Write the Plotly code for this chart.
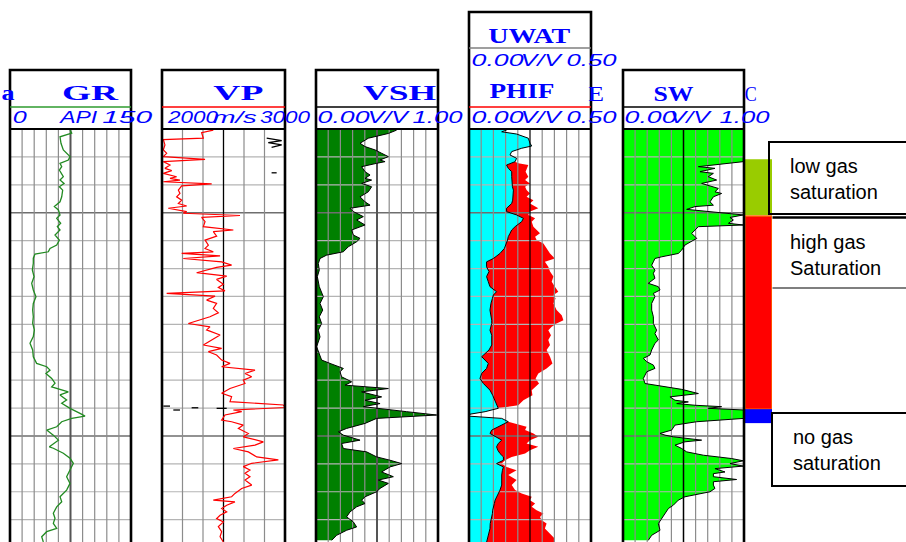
import json
import plotly.graph_objects as go

FIG_W, FIG_H = 906, 542
DEPTH_TOP, DEPTH_BASE = 2165.0, 2179.8

# ---------------- log curves (depth in m) ----------------
gr_depth = [2165.04, 2165.15, 2165.28, 2165.51, 2165.75, 2165.99, 2166.11, 2166.23, 2166.35, 2166.47,
            2166.71, 2166.83, 2166.95, 2167.07, 2167.19, 2167.43, 2167.61, 2167.78, 2167.90, 2168.08,
            2168.20, 2168.38, 2168.50, 2168.62, 2168.80, 2168.98, 2169.16, 2169.28, 2169.40, 2169.48,
            2169.63, 2169.81, 2170.05, 2170.29, 2170.53, 2170.77, 2171.01, 2171.25, 2171.49, 2171.73,
            2171.96, 2172.20, 2172.44, 2172.68, 2172.92, 2173.16, 2173.40, 2173.52, 2173.64, 2173.76,
            2173.94, 2174.11, 2174.24, 2174.42, 2174.53, 2174.71, 2174.83, 2175.01, 2175.19, 2175.29,
            2175.37, 2175.49, 2175.67, 2175.79, 2175.97, 2176.15, 2176.39, 2176.44, 2176.62, 2176.80,
            2176.98, 2177.22, 2177.46, 2177.70, 2177.94, 2178.18, 2178.36, 2178.54, 2178.77, 2178.95,
            2179.13, 2179.31, 2179.43, 2179.61, 2179.80]
gr_api = [74.4, 76.5, 62.0, 63.2, 66.1, 74.4, 72.3, 62.0, 64.1, 61.2,
          66.1, 62.0, 67.0, 61.2, 65.3, 64.1, 62.0, 55.0, 60.0, 62.0,
          57.9, 62.8, 58.7, 62.0, 55.8, 61.2, 57.9, 49.6, 47.5, 31.0,
          28.9, 28.9, 27.7, 29.8, 26.9, 28.9, 32.2, 28.9, 28.1, 28.9,
          28.1, 30.2, 28.9, 24.8, 28.1, 28.9, 33.0, 45.5, 49.6, 44.6,
          51.7, 55.8, 51.7, 72.3, 62.0, 70.2, 64.1, 74.4, 86.8, 93.0,
          76.5, 64.1, 57.9, 45.5, 53.7, 60.0, 48.8, 53.7, 66.1, 74.4,
          78.5, 74.4, 70.2, 74.4, 70.2, 62.0, 64.1, 57.9, 53.7, 55.8,
          53.7, 57.9, 45.5, 39.3, 41.3]

vp_depth = [2165.04, 2165.13, 2165.33, 2165.38, 2165.57, 2165.75, 2165.87, 2165.99, 2166.09, 2166.17,
            2166.29, 2166.41, 2166.49, 2166.59, 2166.71, 2166.77, 2166.83, 2166.89, 2166.97, 2167.04,
            2167.19, 2167.31, 2167.43, 2167.55, 2167.67, 2167.76, 2167.84, 2167.96, 2168.02, 2168.10,
            2168.17, 2168.32, 2168.50, 2168.62, 2168.68, 2168.84, 2168.98, 2169.16, 2169.28, 2169.40,
            2169.46, 2169.55, 2169.64, 2169.76, 2169.88, 2169.96, 2170.15, 2170.27, 2170.39, 2170.56,
            2170.68, 2170.80, 2170.89, 2170.99, 2171.13, 2171.25, 2171.43, 2171.59, 2171.73, 2171.85,
            2171.97, 2172.09,
            2172.20, 2172.38, 2172.56, 2172.74, 2172.86, 2172.98, 2173.10, 2173.28, 2173.40, 2173.52,
            2173.64, 2173.76, 2173.88, 2174.00, 2174.12, 2174.30, 2174.47, 2174.59, 2174.77, 2174.89,
            2174.98, 2175.07, 2175.13, 2175.25, 2175.43, 2175.49, 2175.61, 2175.73, 2175.91, 2176.03,
            2176.21, 2176.33, 2176.45, 2176.57, 2176.75, 2176.86, 2176.98, 2177.10, 2177.22, 2177.34,
            2177.46, 2177.58, 2177.76, 2177.88, 2178.06, 2178.18, 2178.30, 2178.36, 2178.48, 2178.60,
            2178.72, 2178.84, 2178.96, 2179.08, 2179.25, 2179.43, 2179.61, 2179.80]
vp_ms = [2417, 2322, 2336, 2011, 2024, 2011, 2038, 2011, 2350, 2011,
         2065, 2024, 2079, 2011, 2119, 2065, 2146, 2011, 2404, 2160,
         2133, 2146, 2119, 2160, 2133, 2201, 2051, 2201, 2173, 2634,
         2322, 2350, 2336, 2580, 2417, 2444, 2350, 2377, 2350, 2417,
         2160, 2472, 2173, 2485, 2566, 2444, 2282, 2526, 2444, 2499,
         2458, 2512, 2038, 2431, 2363, 2444, 2417, 2458, 2390, 2295,
         2214, 2390,
         2363, 2472, 2404, 2336, 2485, 2377, 2444, 2485, 2553, 2485,
         2756, 2675, 2729, 2661, 2675, 2553, 2485, 2566, 2553, 2986,
         3000, 2580, 2648, 2512, 2485, 2566, 2661, 2621, 2702, 2661,
         2824, 2756, 2580, 2702, 2770, 2946, 2729, 2661, 2715, 2675,
         2715, 2675, 2729, 2648, 2593, 2566, 2417, 2593, 2526, 2485,
         2526, 2472, 2444, 2499, 2458, 2485, 2472, 2499]

# secondary velocity curve, only a few on-scale fragments
vp2_depth = [2165.33, 2165.42, 2165.49, 2165.57, 2165.66, None, 2166.57, 2166.57, None,
             2174.93, 2174.93, None, 2175.07, 2175.07, None, 2174.99, 2174.99, None, 2175.01, 2175.01]
vp2_ms = [2851, 2973, 2864, 2973, 2891, None, 2891, 2932, None,
          2011, 2065, None, 2092, 2146, None, 2241, 2295, None, 2444, 2526]

vsh_depth = [2165.04, 2165.16, 2165.33, 2165.51, 2165.63, 2165.75, 2165.87, 2165.99, 2166.11, 2166.17,
             2166.23, 2166.35, 2166.53, 2166.65, 2166.77, 2166.83, 2166.95, 2167.07, 2167.25, 2167.43,
             2167.61, 2167.73, 2167.84, 2167.96, 2168.14, 2168.26, 2168.44, 2168.62, 2168.80, 2168.92,
             2169.04, 2169.22, 2169.40, 2169.52, 2169.64, 2169.82, 2170.06, 2170.29, 2170.65, 2171.01,
             2171.25, 2171.49, 2171.73, 2171.97, 2172.21, 2172.45, 2172.80, 2173.04, 2173.28, 2173.40,
             2173.58, 2173.70, 2173.88, 2174.06, 2174.18, 2174.30, 2174.42, 2174.60, 2174.72, 2174.84,
             2174.95, 2175.13, 2175.25, 2175.37, 2175.55, 2175.73, 2175.85, 2175.97, 2176.15, 2176.27,
             2176.45, 2176.57, 2176.75, 2176.87, 2176.99, 2177.11, 2177.29, 2177.46, 2177.58, 2177.70,
             2177.88, 2178.00, 2178.18, 2178.30, 2178.42, 2178.54, 2178.72, 2178.90, 2179.08, 2179.26,
             2179.38, 2179.56, 2179.74]
vsh_vv = [0.661, 0.593, 0.429, 0.361, 0.402, 0.484, 0.538, 0.593, 0.525, 0.566,
          0.497, 0.374, 0.402, 0.443, 0.402, 0.456, 0.374, 0.456, 0.429, 0.361,
          0.402, 0.443, 0.279, 0.306, 0.388, 0.333, 0.402, 0.292, 0.306, 0.361,
          0.333, 0.265, 0.224, 0.087, 0.033, 0.019, 0.027, 0.011, 0.027, 0.060,
          0.033, 0.055, 0.027, 0.046, 0.019, 0.033, 0.005, 0.027, 0.046, 0.115,
          0.224, 0.197, 0.210, 0.292, 0.238, 0.593, 0.374, 0.538, 0.402, 0.525,
          0.388, 0.743, 0.989, 0.497, 0.402, 0.251, 0.183, 0.224, 0.361, 0.210,
          0.224, 0.415, 0.497, 0.607, 0.702, 0.607, 0.538, 0.634, 0.511, 0.593,
          0.525, 0.497, 0.402, 0.374, 0.402, 0.333, 0.279, 0.251, 0.306, 0.333,
          0.251, 0.169, 0.128]

phi_depth = [2165.04, 2165.10, 2165.18, 2165.33, 2165.51, 2165.61, 2165.69, 2165.81, 2165.93, 2166.05,
             2166.17, 2166.23, 2166.29, 2166.41, 2166.53, 2166.71, 2166.83, 2166.95, 2167.07, 2167.19,
             2167.31, 2167.43, 2167.55, 2167.67, 2167.84, 2167.96, 2168.08, 2168.20, 2168.32, 2168.50,
             2168.62, 2168.74, 2168.86, 2168.98, 2169.10, 2169.28, 2169.46, 2169.64, 2169.76, 2169.94,
             2170.11, 2170.29, 2170.47, 2170.65, 2170.83, 2170.95, 2171.07, 2171.25, 2171.49, 2171.67,
             2171.85, 2171.97, 2172.09, 2172.21, 2172.39, 2172.56, 2172.74, 2172.92, 2173.16, 2173.40,
             2173.58, 2173.76, 2173.94, 2174.12, 2174.36, 2174.54, 2174.72, 2174.90, 2175.01, 2175.13,
             2175.22, 2175.29, 2175.37, 2175.49, 2175.67, 2175.79, 2175.91, 2176.03, 2176.15, 2176.27,
             2176.39, 2176.51, 2176.63, 2176.75, 2176.87, 2176.99, 2177.11, 2177.23, 2177.40, 2177.58,
             2177.76, 2177.94, 2178.06, 2178.18, 2178.30, 2178.42, 2178.54, 2178.66, 2178.78, 2178.90,
             2179.02, 2179.14, 2179.32, 2179.50, 2179.68, 2179.81]
uwat_vv = [0.154, 0.134, 0.195, 0.243, 0.250, 0.257, 0.216, 0.175, 0.168, 0.195,
           0.189, 0.168, 0.154, 0.161, 0.175, 0.175, 0.175, 0.175, 0.178, 0.182,
           0.182, 0.182, 0.179, 0.175, 0.154, 0.154, 0.195, 0.223, 0.216, 0.189,
           0.175, 0.168, 0.161, 0.158, 0.154, 0.145, 0.127, 0.100, 0.072, 0.072,
           0.082, 0.072, 0.079, 0.086, 0.113, 0.100, 0.096, 0.090, 0.086, 0.090,
           0.093, 0.093, 0.089, 0.086, 0.093, 0.093, 0.093, 0.082, 0.052, 0.079,
           0.072, 0.052, 0.045, 0.059, 0.086, 0.097, 0.107, 0.116, 0.120, 0.066,
           0.004, 0.000, 0.134, 0.161, 0.120, 0.093, 0.086, 0.113, 0.134, 0.120,
           0.113, 0.118, 0.127, 0.141, 0.141, 0.113, 0.141, 0.137, 0.134, 0.134,
           0.134, 0.127, 0.120, 0.113, 0.107, 0.104, 0.100, 0.097, 0.096, 0.093,
           0.090, 0.087, 0.086, 0.082, 0.077, 0.072]
phif_vv = [0.154, 0.134, 0.195, 0.243, 0.250, 0.257, 0.216, 0.175, 0.168, 0.195,
           0.189, 0.202, 0.243, 0.236, 0.232, 0.243, 0.230, 0.250, 0.230, 0.236,
           0.250, 0.236, 0.264, 0.250, 0.284, 0.250, 0.243, 0.271, 0.257, 0.264,
           0.277, 0.291, 0.271, 0.277, 0.305, 0.318, 0.332, 0.352, 0.311, 0.325,
           0.332, 0.346, 0.339, 0.352, 0.366, 0.346, 0.355, 0.346, 0.359, 0.380,
           0.387, 0.359, 0.339, 0.325, 0.336, 0.325, 0.332, 0.318, 0.332, 0.342,
           0.318, 0.284, 0.273, 0.287, 0.257, 0.260, 0.223, 0.202, 0.120, 0.066,
           0.004, 0.000, 0.134, 0.161, 0.236, 0.230, 0.264, 0.284, 0.250, 0.236,
           0.284, 0.250, 0.230, 0.175, 0.148, 0.134, 0.154, 0.195, 0.161, 0.195,
           0.175, 0.189, 0.216, 0.257, 0.250, 0.271, 0.257, 0.277, 0.305, 0.291,
           0.298, 0.318, 0.311, 0.332, 0.352, 0.352]

sw_depth = [2165.04, 2166.11, 2166.17, 2166.35, 2166.41, 2166.53, 2166.59, 2166.71, 2166.83, 2166.95,
            2167.13, 2167.25, 2167.31, 2167.43, 2167.61, 2167.73, 2167.78, 2167.88, 2167.96, 2168.02,
            2168.08, 2168.17, 2168.26, 2168.38, 2168.44, 2168.50, 2168.62, 2168.74, 2168.92, 2169.04,
            2169.16, 2169.34, 2169.46, 2169.58, 2169.64, 2169.76, 2169.88, 2170.06, 2170.17, 2170.35,
            2170.53, 2170.65, 2170.77, 2170.89, 2171.01, 2171.25, 2171.49, 2171.73, 2171.97, 2172.21,
            2172.33, 2172.56, 2172.68, 2172.92, 2173.10, 2173.22, 2173.34, 2173.46, 2173.58, 2173.70,
            2173.82, 2173.94, 2174.12, 2174.24, 2174.33, 2174.48, 2174.60, 2174.72, 2174.78, 2174.84,
            2174.90, 2174.95, 2175.01, 2175.07, 2175.37, 2175.49, 2175.61, 2175.79, 2175.91, 2175.97,
            2176.03, 2176.15, 2176.21, 2176.33, 2176.45, 2176.57, 2176.69, 2176.81, 2176.89, 2176.99,
            2177.08, 2177.17, 2177.29, 2177.35, 2177.46, 2177.56, 2177.64, 2177.76, 2177.88, 2178.00,
            2178.18, 2178.30, 2178.48, 2178.60, 2178.78, 2178.96, 2179.14, 2179.38, 2179.56, 2179.74]
sw_vv = [1.000, 1.000, 0.994, 0.623, 0.760, 0.636, 0.747, 0.705, 0.774, 0.650,
         0.788, 0.760, 0.815, 0.747, 0.719, 0.747, 0.595, 0.526, 0.705, 0.871,
         0.994, 0.884, 0.912, 0.871, 0.994, 0.623, 0.595, 0.568, 0.609, 0.554,
         0.512, 0.485, 0.457, 0.320, 0.264, 0.251, 0.237, 0.264, 0.251, 0.264,
         0.209, 0.292, 0.306, 0.251, 0.264, 0.237, 0.237, 0.251, 0.251, 0.278,
         0.264, 0.292, 0.264, 0.237, 0.223, 0.168, 0.196, 0.251, 0.264, 0.196,
         0.182, 0.168, 0.182, 0.347, 0.485, 0.623, 0.388, 0.430, 0.540, 0.444,
         0.595, 0.815, 0.705, 1.000, 1.000, 0.609, 0.430, 0.402, 0.306, 0.347,
         0.416, 0.650, 0.512, 0.430, 0.485, 0.526, 0.664, 0.898, 0.994, 0.884,
         0.994, 0.760, 0.843, 0.747, 0.747, 0.939, 0.747, 0.747, 0.760, 0.719,
         0.512, 0.457, 0.416, 0.375, 0.347, 0.320, 0.292, 0.306, 0.237, 0.209]

# gas-saturation zones
zone_top = [2166.08, 2168.12, 2175.04]
zone_base = [2168.08, 2175.04, 2175.54]
zone_fill = ["#99CC00", "#FF0000", "#0000FF"]
zone_edge = ["#99CC00", "#FF6A00", "#0000FF"]
zone_edge_w = [0, 1.5, 0]
zone_notes = ["low gas<br>saturation", "high gas<br>Saturation", "no gas<br>saturation"]

# track headers: title, scale (left, unit, right)
track_titles = ["GR", "VP", "VSH", "PHIF", "SW"]
track_scales = [("0", "API", "150"), ("2000", "m/s", "3000"), ("0.00", "V/V", "1.00"),
                ("0.00", "V/V", "0.50"), ("0.00", "V/V", "1.00")]
uwat_title = "UWAT"
uwat_scale = ("0.00", "V/V", "0.50")


def xp(px):
    return px / FIG_W


def yp(py):
    return 1 - py / FIG_H


BLUE = "#0000FF"
BODY_TOP = 129  # log body starts under the header boxes

# track layout: axis id, left/right pixel edges, value range, grid divisions, centre line style, header top, header rule colour
tracks = [
    dict(ax="x", L=10, R=131, rng=[0, 150], ndiv=10, mid=("#555555", 2.0), top=70, rule="#2E9B2E"),
    dict(ax="x2", L=162, R=285, rng=[2000, 3000], ndiv=6, mid=("#000000", 1.3), top=70, rule="#FF0000"),
    dict(ax="x3", L=316, R=438, rng=[0, 1], ndiv=10, mid=("#555555", 2.0), top=70, rule="#000000"),
    dict(ax="x4", L=469, R=591, rng=[0, 0.5], ndiv=10, mid=("#000000", 1.2), top=12, rule="#FF0000"),
    dict(ax="x5", L=623, R=744, rng=[0, 1], ndiv=10, mid=("#000000", 1.5), top=70, rule="#000000"),
]
ZONE_AX = dict(ax="x6", L=745, R=772)


def grid_traces(t):
    lo, hi = t["rng"]
    minor_d = [d for d in range(2166, 2180) if d not in (2168, 2176)]
    major_d = [2168, 2176]
    out = []

    def hlines(depths, color, width):
        xs, ys = [], []
        for d in depths:
            xs += [lo, hi, None]
            ys += [d, d, None]
        return go.Scatter(x=xs, y=ys, xaxis=t["ax"], yaxis="y", mode="lines",
                          line=dict(color=color, width=width), hoverinfo="skip", showlegend=False)

    out.append(hlines(minor_d, "#B4B4B4", 1.2))
    out.append(hlines(major_d, "#6E6E6E", 1.6))
    step = (hi - lo) / t["ndiv"]
    half = t["ndiv"] // 2
    xs, ys = [], []
    for k in range(1, t["ndiv"]):
        if k == half:
            continue
        xs += [lo + k * step, lo + k * step, None]
        ys += [DEPTH_TOP, DEPTH_BASE, None]
    out.append(go.Scatter(x=xs, y=ys, xaxis=t["ax"], yaxis="y", mode="lines",
                          line=dict(color="#8C8C8C", width=1.2), hoverinfo="skip", showlegend=False))
    mc, mw = t["mid"]
    xm = lo + half * step
    out.append(go.Scatter(x=[xm, xm], y=[DEPTH_TOP, DEPTH_BASE], xaxis=t["ax"], yaxis="y", mode="lines",
                          line=dict(color=mc, width=mw), hoverinfo="skip", showlegend=False))
    return out


def curve(x, y, ax, color, width=1.0):
    return go.Scatter(x=x, y=y, xaxis=ax, yaxis="y", mode="lines",
                      line=dict(color=color, width=width), hoverinfo="skip", showlegend=False)


def fill_to_left(x, y, ax, color):
    return go.Scatter(x=x, y=y, xaxis=ax, yaxis="y", mode="lines", line=dict(width=0, color=color),
                      fill="tozerox", fillcolor=color, hoverinfo="skip", showlegend=False)


traces = []
# GR
traces += grid_traces(tracks[0])
traces.append(curve(gr_api, gr_depth, "x", "#228B22", 1.3))
# VP
traces += grid_traces(tracks[1])
traces.append(curve(vp_ms, vp_depth, "x2", "#FF0000", 1.2))
traces.append(curve(vp2_ms, vp2_depth, "x2", "#000000", 1.3))
# VSH
traces.append(fill_to_left(vsh_vv, vsh_depth, "x3", "#008000"))
traces += grid_traces(tracks[2])
traces.append(curve(vsh_vv, vsh_depth, "x3", "#000000", 1.0))
# PHIF / UWAT
traces.append(fill_to_left(uwat_vv, phi_depth, "x4", "#00FFFF"))
traces.append(go.Scatter(x=phif_vv, y=phi_depth, xaxis="x4", yaxis="y", mode="lines",
                         line=dict(width=0, color="#FF0000"), fill="tonextx", fillcolor="#FF0000",
                         hoverinfo="skip", showlegend=False))
traces += grid_traces(tracks[3])
traces.append(curve(uwat_vv, phi_depth, "x4", "#000000", 1.0))
# SW
traces.append(fill_to_left(sw_vv, sw_depth, "x5", "#00FF00"))
traces += grid_traces(tracks[4])
traces.append(curve(sw_vv, sw_depth, "x5", "#000000", 1.0))
# zones
traces.append(go.Bar(
    orientation="h", xaxis="x6", yaxis="y",
    x=[1] * len(zone_top), base=[0] * len(zone_top),
    y=[(a + b) / 2 for a, b in zip(zone_top, zone_base)],
    width=[b - a for a, b in zip(zone_top, zone_base)],
    marker=dict(color=zone_fill, line=dict(color=zone_edge, width=zone_edge_w)),
    hoverinfo="skip", showlegend=False))

fig = go.Figure(data=traces)

axes = {}
for i, t in enumerate(tracks + [dict(ZONE_AX, rng=[0, 1])]):
    key = "xaxis" if i == 0 else "xaxis%d" % (i + 1)
    axes[key] = dict(domain=[xp(t["L"]), xp(t["R"])], range=t["rng"], anchor="y",
                     visible=False, showgrid=False, zeroline=False, fixedrange=True)
axes["yaxis"] = dict(domain=[0, yp(BODY_TOP)], range=[DEPTH_BASE, DEPTH_TOP], visible=False,
                     showgrid=False, zeroline=False, fixedrange=True)

shapes = []


def pline(x0, y0, x1, y1, color, width):
    shapes.append(dict(type="line", xref="paper", yref="paper", x0=xp(x0), y0=yp(y0), x1=xp(x1), y1=yp(y1),
                       line=dict(color=color, width=width), layer="above"))


def prect(x0, y0, x1, y1, color, width):
    shapes.append(dict(type="rect", xref="paper", yref="paper", x0=xp(x0), y0=yp(y0), x1=xp(x1), y1=yp(y1),
                       line=dict(color=color, width=width), fillcolor="rgba(0,0,0,0)", layer="above"))


for t in tracks:
    prect(t["L"], t["top"], t["R"], 620, "#000000", 2.6)
    pline(t["L"], BODY_TOP, t["R"], BODY_TOP, "#000000", 2.2)
    pline(t["L"], 107, t["R"], 107, t["rule"], 1.3)
pline(469, 48, 591, 48, "#7F7F7F", 1.6)

# note boxes beside the zone column
prect(769, 142, 930, 214, "#000000", 2.0)
pline(772.5, 217.5, 930, 217.5, "#000000", 2.6)
pline(772.5, 288, 930, 288, "#000000", 1.2)
prect(772, 413, 930, 486, "#000000", 2.0)

annotations = []
stretch = {}


def label(text, cx, cy, size, family, width=None, bold=False, italic=False, color=BLUE):
    if width is not None:
        stretch[len(annotations)] = width
    annotations.append(dict(
        text=text, x=xp(cx), y=yp(cy), xref="paper", yref="paper", xanchor="center", yanchor="middle",
        showarrow=False, font=dict(family=family, size=size, color=color,
                                   weight="bold" if bold else "normal",
                                   style="italic" if italic else "normal")))


SERIF = "Liberation Serif"
SANS = "Liberation Sans"

# titles: (centre x, centre y, stretched width)
title_pos = [(90, 93.5, 56), (238, 93.5, 50), (400, 93.5, 73), (522, 91, 65), (673, 94, 40)]
for name, (cx, cy, w) in zip(track_titles, title_pos):
    label(name, cx, cy, 20, SERIF, w, bold=True)
label(uwat_title, 529, 36, 20, SERIF, 82, bold=True)
label("a", 8, 93.5, 20, SERIF, 13, bold=True)
label("E", 596, 94, 20, SERIF, 16)
label("C", 750, 94, 20, SERIF, 12)

# scale rows: centres of (left, unit, right) and their widths
scale_pos = [
    ((19.5, 14), (78.5, 37), (127, 50)),
    ((192, 50), (235, 44), (285, 50)),
    ((344, 52), (388, 40), (438, 50)),
    ((498, 52), (541, 40), (592, 50)),
    ((651, 52), (690, 40), (745, 50)),
]
for parts, pos in zip(track_scales, scale_pos):
    for txt, (cx, w) in zip(parts, pos):
        label(txt, cx, 118, 17, SANS, w, italic=True)
for txt, (cx, w) in zip(uwat_scale, scale_pos[3]):
    label(txt, cx, 60, 17, SANS, w, italic=True)

# zone notes
note_pos = [(788, 152.5), (788, 229), (791, 424)]
for note, (x0, y0) in zip(zone_notes, note_pos):
    annotations.append(dict(
        text=note, x=xp(x0), y=yp(y0), xref="paper", yref="paper", xanchor="left", yanchor="top",
        align="left", showarrow=False, font=dict(family=SANS, size=20, color="#000000")))

fig.update_layout(
    width=FIG_W, height=FIG_H, autosize=False,
    margin=dict(l=0, r=0, t=0, b=0, pad=0),
    paper_bgcolor="white", plot_bgcolor="white",
    showlegend=False, barmode="overlay",
    shapes=shapes, annotations=annotations,
    **axes,
)

post_js = """
try {
  document.body.style.margin = '0';
  var gd = document.getElementById('{plot_id}');
  var widths = %s;
  Object.keys(widths).forEach(function (k) {
    var t = gd.querySelector('g.annotation[data-index="' + k + '"] text.annotation-text');
    if (t) {
      t.setAttribute('textLength', widths[k]);
      t.setAttribute('lengthAdjust', 'spacingAndGlyphs');
    }
  });
} catch (e) {}
""" % json.dumps(stretch)

fig.write_html("out.html", config=dict(displayModeBar=False, staticPlot=True), post_script=post_js)
